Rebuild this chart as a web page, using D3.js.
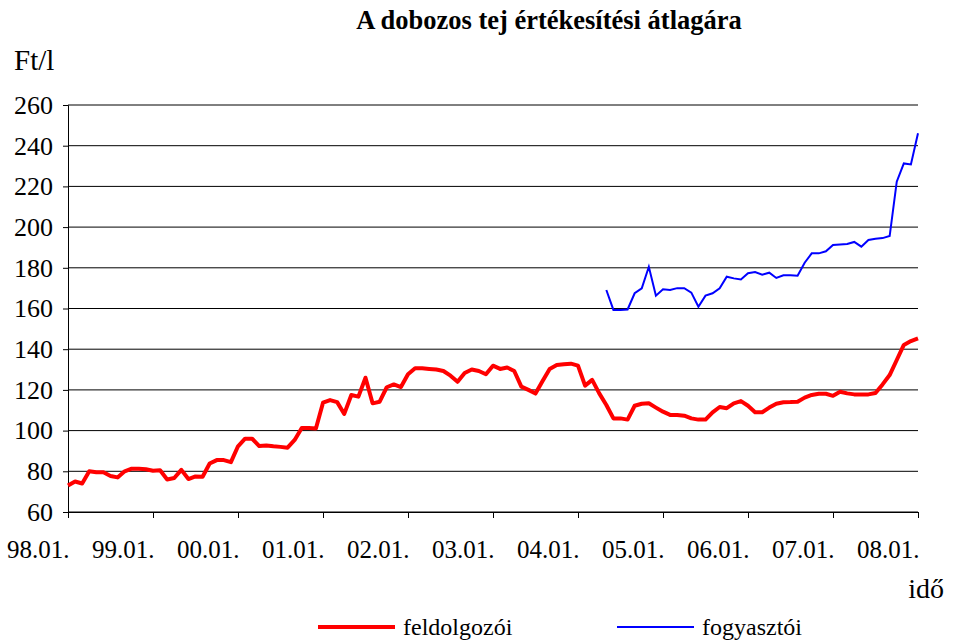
<!DOCTYPE html>
<html>
<head>
<meta charset="utf-8">
<script src="https://cdn.jsdelivr.net/npm/d3@7"></script>
<style>
  body { margin: 0; background: #fff; }
  svg text { font-family: "Liberation Serif", "Times New Roman", serif; fill: #000; }
</style>
</head>
<body>
<svg id="chart" width="954" height="640"></svg>
<script>
// tick labels (one per January)
const yearLabels = ["98.01.", "99.01.", "00.01.", "01.01.", "02.01.", "03.01.", "04.01.", "05.01.", "06.01.", "07.01.", "08.01."];
const yTicks = [60, 80, 100, 120, 140, 160, 180, 200, 220, 240, 260];

// feldolgozói ár, havonta 98.01 - 08.01
const feldolgozoi = [
    73, 75, 74, 80, 79.5, 79.5, 77.7, 77, 80, 81.3, 81.3, 81,
    80.3, 80.5, 76, 76.7, 80.7, 76.2, 77.5, 77.3, 83.8, 85.5, 85.5, 84.5,
    92.3, 96, 96, 92.4, 92.7, 92.3, 92, 91.6, 95.4, 101.3, 101.3, 101,
    113.7, 115, 114, 108.2, 117.5, 116.7, 126, 113.4, 114.2, 121.3, 122.7, 121.4,
    127.7, 130.6, 130.6, 130.3, 130, 129.3, 127, 124, 128.3, 130, 129.3, 127.7,
    131.9, 130.3, 131, 129.3, 121.6, 120, 118.2, 124.4, 130.3, 132.2, 132.6, 132.9,
    131.9, 122.1, 124.9, 118.3, 112.6, 106, 106, 105.4, 112.2, 113.2, 113.4, 111.3,
    109.3, 107.7, 107.7, 107.3, 106, 105.4, 105.4, 109, 111.6, 111, 113.4, 114.5,
    112.2, 109, 109, 111.3, 113.2, 113.9, 114, 114.2, 116.2, 117.5, 118.1, 118.1,
    117.1, 119.1, 118.3, 117.8, 117.8, 117.8, 118.5, 122.7, 127.3, 134.7, 142.1, 144,
    145.3
];

// fogyasztói ár, 04.05-től
const fogyasztoiStart = 76;
const fogyasztoi = [
    169.1, 159.3, 159.3, 159.5, 167.5, 169.9, 180.5, 166.3,
    169.4, 169.1, 170, 170, 167.8, 160.9, 166.3, 167.5, 169.9, 175.6, 174.8, 174.3,
    177.3, 177.9, 176.6, 177.6, 175, 176.3, 176.3, 176.1, 182.5, 187.1, 187.1, 188.1,
    191.2, 191.5, 191.7, 192.7, 190.4, 193.7, 194.3, 194.6, 195.6, 222.3, 231.3, 230.8,
    246.1
];

const svg = d3.select("#chart");
const margin = { top: 105, right: 36, bottom: 128, left: 68 };
const width = 954 - margin.left - margin.right;
const height = 640 - margin.top - margin.bottom;

const x = d3.scaleLinear().domain([0, 120]).range([0, width]);
const y = d3.scaleLinear().domain([60, 260]).range([height, 0]);

const g = svg.append("g").attr("transform", `translate(${margin.left},${margin.top})`);

// Title
svg.append("text")
    .attr("x", 549).attr("y", 29)
    .attr("text-anchor", "middle")
    .attr("font-size", "26.5px")
    .attr("font-weight", "bold")
    .text("A dobozos tej értékesítési átlagára");

svg.append("text")
    .attr("x", 14).attr("y", 70)
    .attr("font-size", "29px")
    .text("Ft/l");

// Gridlines
g.append("g")
    .selectAll("line")
    .data(yTicks)
    .join("line")
    .attr("x1", 0).attr("x2", width)
    .attr("y1", d => y(d)).attr("y2", d => y(d))
    .attr("stroke", "#000")
    .attr("stroke-width", 1);

// Y axis
const yAxis = g.append("g")
    .call(d3.axisLeft(y).tickValues(yTicks).tickSize(5).tickPadding(10));
yAxis.select(".domain").attr("stroke", "#000");
yAxis.selectAll("text").attr("font-size", "26px").attr("font-family", "Liberation Serif");

// X axis
const xAxis = g.append("g")
    .attr("transform", `translate(0,${height})`)
    .call(d3.axisBottom(x)
        .tickValues(d3.range(0, 121, 12))
        .tickFormat((d, i) => yearLabels[i])
        .tickSize(6).tickPadding(22));
xAxis.select(".domain").attr("stroke", "#000");
xAxis.selectAll("text")
    .attr("font-size", "25px")
    .attr("font-family", "Liberation Serif")
    .attr("text-anchor", "end")
    .attr("dx", "1px");

svg.append("text")
    .attr("x", 944).attr("y", 598)
    .attr("text-anchor", "end")
    .attr("font-size", "28px")
    .text("idő");

// Lines
const line = d3.line()
    .x(d => x(d.m))
    .y(d => y(d.v));

g.append("path")
    .datum(feldolgozoi.map((v, i) => ({ m: i, v: v })))
    .attr("fill", "none")
    .attr("stroke", "#ff0000")
    .attr("stroke-width", 4)
    .attr("stroke-linejoin", "round")
    .attr("d", line);

g.append("path")
    .datum(fogyasztoi.map((v, i) => ({ m: fogyasztoiStart + i, v: v })))
    .attr("fill", "none")
    .attr("stroke", "#0000ff")
    .attr("stroke-width", 2)
    .attr("d", line);

// Legend
const legend = [
    { name: "feldolgozói", color: "#ff0000", w: 4, x: 318 },
    { name: "fogyasztói", color: "#0000ff", w: 2, x: 617 }
];
const lg = svg.append("g").selectAll("g").data(legend).join("g")
    .attr("transform", d => `translate(${d.x},627)`);
lg.append("line")
    .attr("x1", 0).attr("x2", 77)
    .attr("stroke", d => d.color)
    .attr("stroke-width", d => d.w);
lg.append("text")
    .attr("x", 85).attr("y", 8)
    .attr("font-size", "24px")
    .text(d => d.name);
</script>
</body>
</html>
